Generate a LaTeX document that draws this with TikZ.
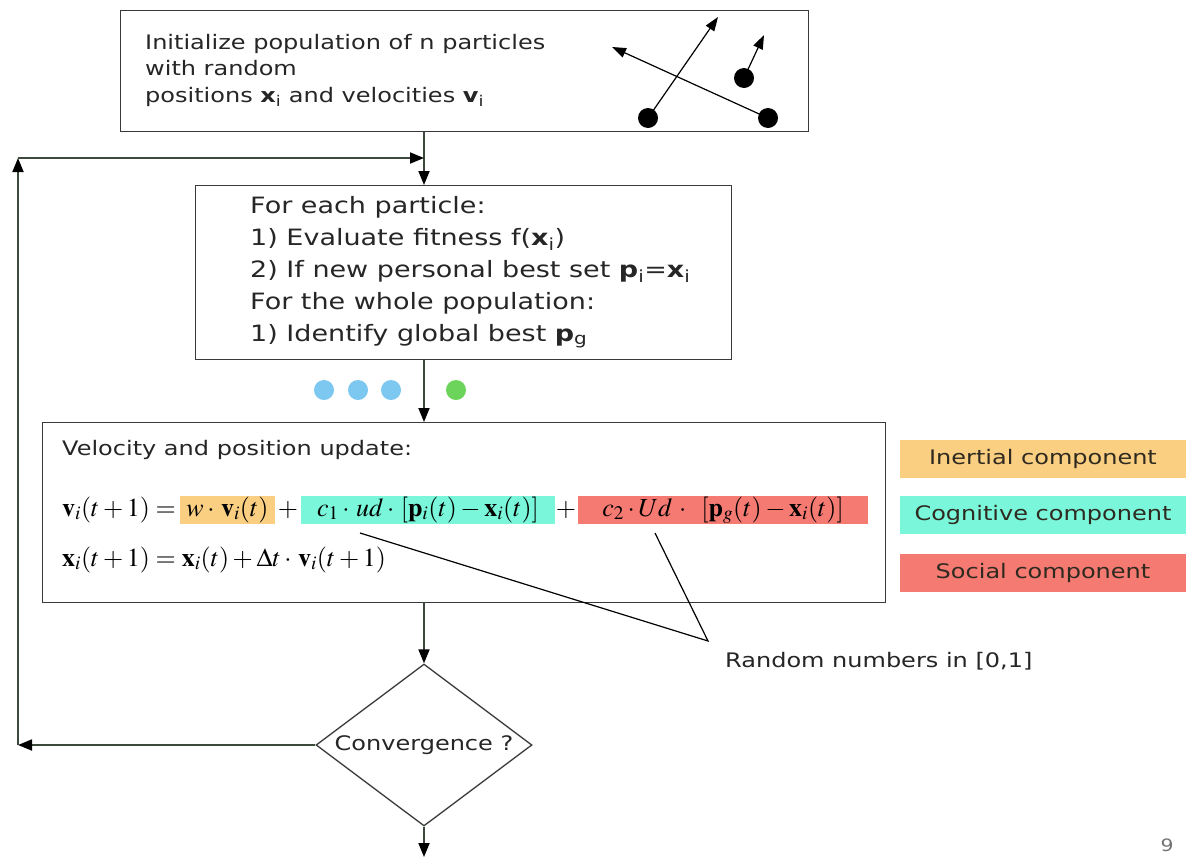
\documentclass[tikz,border=0pt]{standalone}
\usepackage{mathptmx}
\usepackage{fontspec}
\setmainfont{DejaVu Sans}[FakeStretch=1.2]
\usetikzlibrary{arrows.meta,shapes.geometric,calc}
\definecolor{boxc}{HTML}{3A3A3A}
\definecolor{connc}{HTML}{3C4A3C}
\definecolor{inertc}{HTML}{FBCF82}
\definecolor{cogc}{HTML}{7AF7DA}
\definecolor{socc}{HTML}{F57A72}
\definecolor{dotb}{HTML}{7CC8F0}
\definecolor{dotg}{HTML}{6CD45A}
\definecolor{legtxt}{HTML}{2E2A20}
\newcommand{\txtfont}{\fontsize{20}{26.5}\selectfont}
\newcommand{\bigtxtfont}{\fontsize{22.5}{32}\selectfont}
\newcommand{\eqfont}{\fontsize{26}{30}\selectfont}
\begin{document}
\begin{tikzpicture}[x=1pt,y=-1pt,
  box/.style={draw=boxc, line width=1.3pt, inner sep=0pt, anchor=north west},
  conn/.style={draw=connc, line width=1.8pt, -{Triangle[length=14pt,width=11pt,color=black]}},
  parr/.style={draw=black, line width=1.2pt, -{Triangle[length=14pt,width=10pt]}},
  pdot/.style={circle, fill=black, minimum size=20pt, inner sep=0pt},
  cdot/.style={circle, minimum size=20pt, inner sep=0pt},
  txt/.style={font=\txtfont, text=black!85, align=left, inner sep=0pt},
  eq/.style={font=\eqfont, inner sep=0pt, text height=20pt, text depth=8pt},
  leg/.style={font=\txtfont, text=legtxt, minimum width=286pt, minimum height=38pt, inner sep=0pt}]
\useasboundingbox[fill=white] (0,0) rectangle (1186,857);

% Box 1
\node[box, minimum width=688pt, minimum height=121pt] (init) at (120,10) {};
\node[txt, anchor=north west] (initT) at (145,34)
  {Initialize population of n particles\\with random\\positions \textbf{x}\textsubscript{i} and velocities \textbf{v}\textsubscript{i}};
\node[pdot] (d1) at (648,118) {};
\node[pdot] (d2) at (768,118) {};
\node[pdot] (d3) at (744,78) {};
\coordinate (a1) at (718,17);
\coordinate (a2) at (612,47);
\coordinate (a3) at (764,35);
\draw[parr] (d1.center) -- (a1);
\draw[parr] (d2.center) -- (a2);
\draw[parr] (d3.center) -- (a3);

% Box 2
\node[box, minimum width=536pt, minimum height=174pt] (each) at (195,185) {};
\node[txt, font=\bigtxtfont, anchor=north west] (eachT) at (250,196)
  {For each particle:\\
   1) Evaluate fitness f(\textbf{x}\textsubscript{i})\\
   2) If new personal best set \textbf{p}\textsubscript{i}=\textbf{x}\textsubscript{i}\\
   For the whole population:\\
   1) Identify global best \textbf{p}\textsubscript{g}};

% dots
\node[cdot, fill=dotb] (b1) at (324,390) {};
\node[cdot, fill=dotb] (b2) at (358,390) {};
\node[cdot, fill=dotb] (b3) at (391,390) {};
\node[cdot, fill=dotg] (g1) at (456,390) {};

% Box 3
\node[box, minimum width=843pt, minimum height=180pt] (upd) at (42,422) {};
\node[txt, anchor=west] (updT) at (62,450) {Velocity and position update:};
\node[eq, anchor=west] (e0) at (62,510) {$\mathbf{v}_i(t+1)=$};
\node[eq, fill=inertc, minimum width=95pt] (e1) at (227.5,510) {$w\cdot\,\mathbf{v}_i(t)$};
\node[eq] (p1) at (288,510) {$+$};
\node[eq, fill=cogc, minimum width=254pt] (e2) at (428,510) {$c_1\cdot\,ud\cdot\,[\mathbf{p}_i(t)-\mathbf{x}_i(t)]$};
\node[eq] (p2) at (566,510) {$+$};
\node[eq, fill=socc, minimum width=290pt] (e3) at (723,510) {$c_2\cdot Ud\,\cdot\;\;[\mathbf{p}_g(t)-\mathbf{x}_i(t)]$};
\node[eq, anchor=west] (e4) at (62,560) {$\mathbf{x}_i(t+1)=\mathbf{x}_i(t)+\Delta t\cdot\,\mathbf{v}_i(t+1)$};

% legend
\node[leg, fill=inertc] (leg1) at (1043,459) {Inertial component};
\node[leg, fill=cogc] (leg2) at (1043,515) {Cognitive component};
\node[leg, fill=socc] (leg3) at (1043,573) {Social component};

% callout
\coordinate (c1) at (360,533);
\coordinate (c2) at (655,533);
\coordinate (rn) at (708,641);
\draw[line width=1.2pt] (c1) -- (rn) -- (c2);
\node[txt, anchor=west] (rand) at (725,661) {Random numbers in [0,1]};

% diamond
\node[draw=boxc, line width=1.3pt, diamond, aspect=1.333, minimum width=216pt, minimum height=162pt, inner sep=0pt, font=\txtfont, text=black!85] (dia) at (424,745) {Convergence ?};

% connectors
\coordinate (lb) at (18,745);
\coordinate (lt) at (18,158);
\coordinate (lm) at (424,158);
\coordinate (endp) at (424,857);
\draw[conn] (init.south -| dia.north) -- (each.north -| dia.north);
\draw[conn] (each.south -| dia.north) -- (upd.north -| dia.north);
\draw[conn] (upd.south -| dia.north) -- (dia.north);
\draw[conn] (dia.south) -- (endp);
\draw[conn] (dia.west) -- (lb);
\draw[conn] (lb) -- (lt);
\draw[conn] (lt) -- (lm);

\node[font=\fontsize{17}{20}\selectfont, text=black!55, inner sep=0pt] (pg) at (1167,845) {9};
\end{tikzpicture}
\end{document}
